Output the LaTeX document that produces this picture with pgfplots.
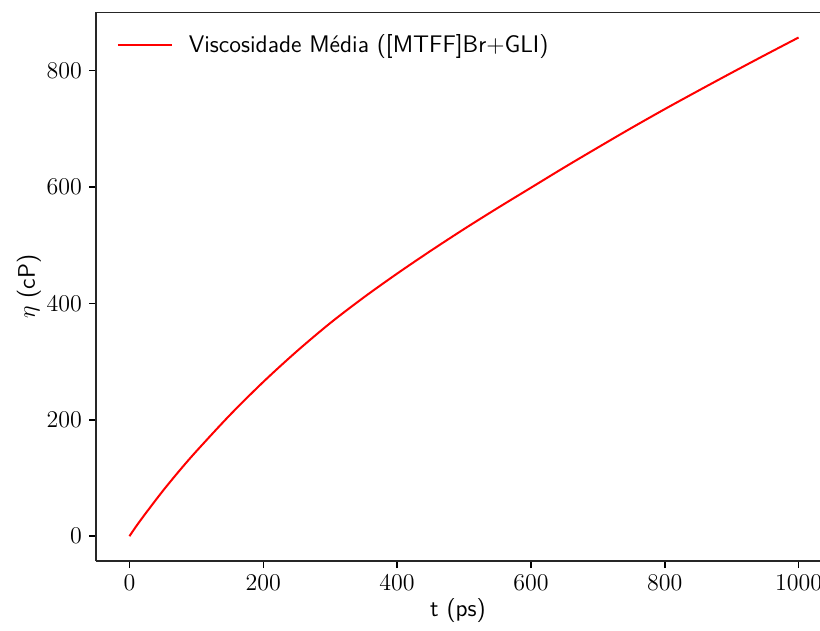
\documentclass[border=0pt]{standalone}
\usepackage{pgfplots}
\pgfplotsset{compat=1.18}
\usetikzlibrary{calc}
\pgfplotstableread{
t eta
0 0
10 17
25 40.5
50 78
75 113
100 146
150 208
200 265
250 317.5
300 366
350 410
400 451
450 490
500 527.5
550 563.5
600 598.5
650 633.5
700 667.5
750 701
800 733.5
850 765
900 796
950 826.5
1000 856.5
}\datatable
\begin{document}
\begin{tikzpicture}
\begin{axis}[
  scale only axis,
  width=361.9pt, height=274.3pt,
  xmin=-50, xmax=1032,
  ymin=-42.8, ymax=899.6,
  axis y line*=left,
  xtick pos=bottom,
  xtick={0,200,400,600,800,1000},
  ytick={0,200,400,600,800},
  tick align=outside,
  major tick length=3.5pt,
  every tick/.style={black, line width=0.8pt},
  axis line style={line width=0.8pt, black!85},
  tick label style={font=\fontsize{12}{14}\selectfont},
  xticklabel style={/pgf/number format/set thousands separator={}},
  label style={font=\fontsize{12}{14}\selectfont\sffamily},
  xlabel={t (ps)},
  ylabel={$\eta$ (cP)},
  xlabel style={yshift=3pt},
  ylabel style={yshift=-4pt},
  legend style={at={(0.02,0.94)}, anchor=west, draw=none, fill=white, font=\fontsize{12}{14}\selectfont\sffamily},
  legend cell align=left,
  legend image code/.code={\draw[#1] (0pt,0pt) -- (27pt,0pt); \path (33pt,0pt);},
]
\addplot[red, line width=1pt, smooth, tension=0.5] table[x=t, y=eta] {\datatable};
\addlegendentry{Viscosidade Média ([MTFF]Br+GLI)}
\end{axis}
\pgfresetboundingbox
\path ($(current axis.south west)+(-48pt,-34.7pt)$) rectangle ($(current axis.north east)+(0pt,6.2pt)$);
\end{tikzpicture}
\end{document}
